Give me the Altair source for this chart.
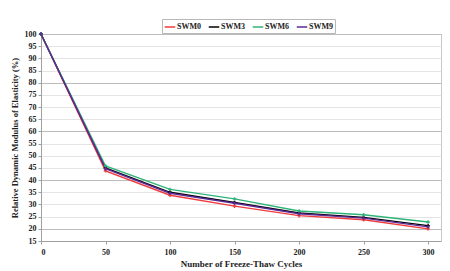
import altair as alt
import pandas as pd

cycles = [0, 50, 100, 150, 200, 250, 300]
swm0 = [100, 43.8, 33.8, 29.3, 25.4, 23.7, 20.0]
swm3 = [100, 45.0, 35.0, 30.8, 26.5, 24.7, 21.3]
swm6 = [100, 45.8, 36.2, 32.3, 27.3, 25.8, 22.8]
swm9 = [100, 44.7, 34.6, 30.5, 26.2, 24.4, 20.8]

series = ["SWM0", "SWM3", "SWM6", "SWM9"]
colors = ["#f03c3c", "#000000", "#2fb37a", "#5b2a96"]

rows = []
for name, vals in zip(series, [swm0, swm3, swm6, swm9]):
    for c, v in zip(cycles, vals):
        rows.append({"cycles": c, "rdme": v, "mix": name, "order": series.index(name)})
df = pd.DataFrame(rows)

font = "Liberation Serif, Times New Roman, serif"

x = alt.X(
    "cycles:Q",
    scale=alt.Scale(domain=[0, 310], nice=False),
    axis=alt.Axis(
        values=cycles,
        title="Number of Freeze-Thaw Cycles",
        grid=False,
        domainColor="#a0a0a0",
        tickColor="#a0a0a0",
        tickSize=3,
        labelFont=font,
        labelFontWeight="bold",
        labelFontSize=8,
        labelColor="#222",
        labelPadding=4,
        titleFont=font,
        titleFontWeight="bold",
        titleFontSize=9,
        titleColor="#222",
        titlePadding=3,
    ),
)
y = alt.Y(
    "rdme:Q",
    scale=alt.Scale(domain=[15, 100], nice=False),
    axis=alt.Axis(
        values=list(range(15, 101, 5)),
        title="Relative Dynamic Modulus of Elasticity (%)",
        gridColor=alt.condition("datum.value % 20 == 0", alt.value("#bcbcbc"), alt.value("#e4e4e4")),
        gridWidth=1,
        domainColor="#a0a0a0",
        tickColor="#a0a0a0",
        tickSize=3,
        labelFont=font,
        labelFontWeight="bold",
        labelFontSize=8,
        labelColor="#222",
        labelPadding=2,
        titleFont=font,
        titleFontWeight="bold",
        titleFontSize=8.5,
        titleColor="#222",
        titlePadding=5,
    ),
)
color = alt.Color(
    "mix:N",
    scale=alt.Scale(domain=series, range=colors),
    legend=alt.Legend(
        title=None,
        orient="none",
        direction="horizontal",
        legendX=121,
        legendY=-15,
        symbolType="stroke",
        symbolSize=110,
        symbolStrokeWidth=1.5,
        labelFont=font,
        labelFontWeight="bold",
        labelFontSize=8,
        labelColor="#222",
        labelOffset=1,
        columnPadding=4,
        strokeColor="#b8b8b8",
        padding=2,
        fillColor="white",
    ),
)

base = alt.Chart(df).encode(x=x, y=y, color=color, order="order:Q")
lines = base.mark_line(strokeWidth=1.4)
points = base.mark_point(shape="cross", size=12, filled=True, opacity=1)

chart = (
    alt.layer(lines, points)
    .properties(
        width=400,
        height=207,
        autosize=alt.AutoSizeParams(type="none"),
        padding={"left": 41, "top": 34, "right": 9, "bottom": 30},
        background="white",
    )
    .configure_view(stroke="#c8c8c8", strokeWidth=1)
)

chart.save("out.html", embed_options={"renderer": "svg", "actions": False})
